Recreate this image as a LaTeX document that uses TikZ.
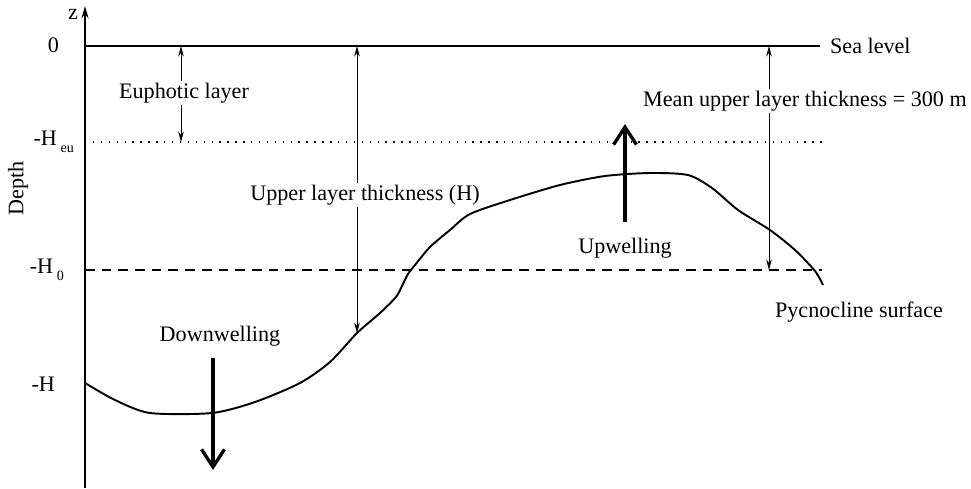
\documentclass[tikz,border=0pt]{standalone}
\usepackage{fontspec}
\setmainfont{Liberation Serif}
\usetikzlibrary{arrows.meta}
\tikzset{
  lbl/.style={font=\fontsize{12.6}{15}\selectfont, inner sep=1pt},
  thinarrow/.style={line width=0.5pt, -{Stealth[length=6pt,width=3.2pt]}},
  flowarrow/.style={line width=2.2pt, -{Straight Barb[length=10pt,width=13pt,line width=1.9pt]}},
  sealine/.style={line width=1.1pt},
  euline/.style={line width=0.6pt, dash pattern=on 0.8pt off 3.7pt},
  meanline/.style={line width=0.7pt, dash pattern=on 5.5pt off 4pt},
  pycno/.style={line width=1.1pt, line join=round},
}

\begin{document}
\begin{tikzpicture}[x=0.02cm,y=-0.02cm]
\useasboundingbox (0,0) rectangle (971,488);

% depth axis
\coordinate (zBot) at (85,488);
\coordinate (zTop) at (85,6);
\draw[line width=0.8pt,-{Stealth[length=7pt,width=4pt]}] (zBot) -- (zTop);
\node[lbl,anchor=east] (zLbl) at (80,14) {z};
\node[lbl,rotate=90] (depthLbl) at (18,188) {Depth};

% reference levels
\coordinate (sea0) at (85,46);   \coordinate (sea1) at (820,46);
\coordinate (eu0) at (85,142);   \coordinate (eu1) at (822,142);
\coordinate (ho0) at (85,270);   \coordinate (ho1) at (822,270);
\draw[sealine] (sea0) -- (sea1);
\draw[euline] (eu0) -- (eu1);
\draw[meanline] (ho0) -- (ho1);

\node[lbl,anchor=east] (zeroLbl) at (61,45) {0};
\node[lbl,anchor=east] (heuLbl) at (76,142) {-H\,\raisebox{-.7ex}{\footnotesize eu}};
\node[lbl,anchor=east] (hoLbl) at (66,270) {-H\,\raisebox{-.7ex}{\footnotesize 0}};
\node[lbl,anchor=east] (hLbl) at (57,384) {-H};
\node[lbl,anchor=west] (seaLbl) at (828,46) {Sea level};

% pycnocline surface
\draw[pycno] plot[smooth,tension=0.45] coordinates {
  (85,383) (115,400) (150,413) (212,413) (255,402) (300,383) (330,362)
  (357,333) (380,313) (396,297) (402,286) (408,274) (415,265) (430,247)
  (450,230) (470,214) (510,200) (560,185) (605,176) (650,173) (688,175)
  (712,188) (738,210) (770,230) (795,250) (815,271) (823,285)};
\node[lbl] (pycLbl) at (859,312) {Pycnocline surface};

% euphotic layer
\coordinate (euTop) at (181,46);
\coordinate (euBot) at (181,142);
\node[lbl] (euLbl) at (184,93) {Euphotic layer};
\draw[thinarrow] (euLbl.north -| euTop) -- (euTop);
\draw[thinarrow] (euLbl.south -| euTop) -- (euBot);

% upper layer thickness
\coordinate (ulTop) at (357,46);
\coordinate (ulBot) at (357,333);
\node[lbl] (ulLbl) at (365,195) {Upper layer thickness (H)};
\draw[thinarrow] (ulLbl.north -| ulTop) -- (ulTop);
\draw[thinarrow] (ulLbl.south -| ulTop) -- (ulBot);

% mean upper layer thickness
\coordinate (mnTop) at (769,46);
\coordinate (mnBot) at (769,270);
\node[lbl] (mnLbl) at (805,101) {Mean upper layer thickness = 300 m};
\draw[thinarrow] (mnLbl.north -| mnTop) -- (mnTop);
\draw[thinarrow] (mnLbl.south -| mnTop) -- (mnBot);

% vertical motion
\coordinate (dwTop) at (213,358);
\coordinate (dwBot) at (213,470);
\node[lbl] (dwLbl) at (220,336) {Downwelling};
\draw[flowarrow] (dwTop) -- (dwBot);

\coordinate (upBot) at (625,222);
\coordinate (upTop) at (625,124);
\node[lbl] (upLbl) at (625,248) {Upwelling};
\draw[flowarrow] (upBot) -- (upTop);
\end{tikzpicture}
\end{document}
